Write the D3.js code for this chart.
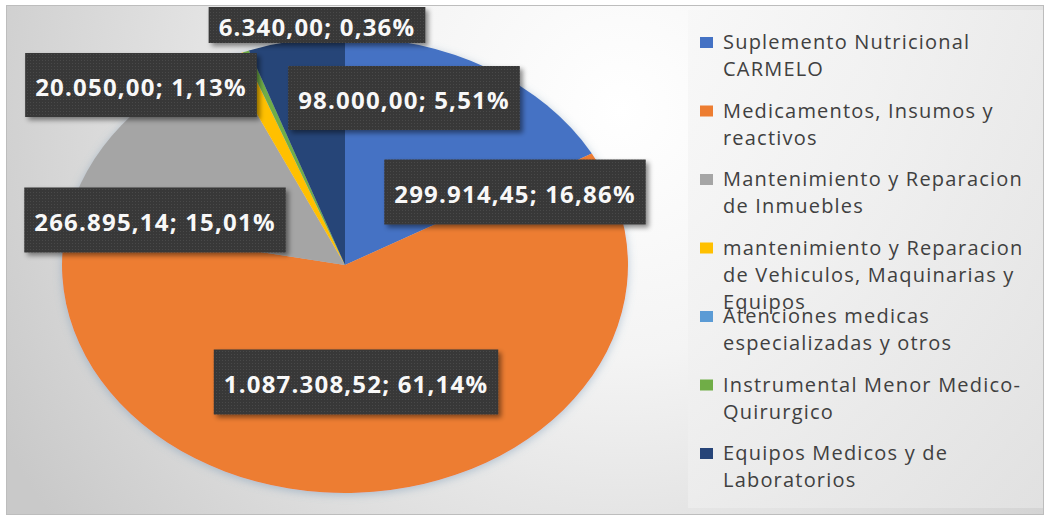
<!DOCTYPE html>
<html>
<head>
<meta charset="utf-8">
<script src="https://cdn.jsdelivr.net/npm/d3@7"></script>
<style>
  body { margin: 0; background: #ffffff; }
  svg { display: block; }
</style>
</head>
<body>
<div id="chart"></div>
<script>
// data
const categories = [
  'Suplemento Nutricional CARMELO',
  'Medicamentos, Insumos y reactivos',
  'Mantenimiento y Reparacion de Inmuebles',
  'mantenimiento y Reparacion de Vehiculos, Maquinarias y Equipos',
  'Atenciones medicas especializadas y otros',
  'Instrumental Menor Medico-Quirurgico',
  'Equipos Medicos y de Laboratorios'
];
const values = [299914.45, 1087308.52, 266895.14, 20050.00, 0, 6340.00, 98000.00];
const colors = ['#4472C4', '#ED7D31', '#A5A5A5', '#FFC000', '#5B9BD5', '#70AD47', '#264478'];

// legend lines (as wrapped in the original)
const legendLines = [
  ['Suplemento Nutricional', 'CARMELO'],
  ['Medicamentos, Insumos y', 'reactivos'],
  ['Mantenimiento y Reparacion', 'de Inmuebles'],
  ['mantenimiento y Reparacion', 'de Vehiculos, Maquinarias y', 'Equipos'],
  ['Atenciones medicas', 'especializadas y otros'],
  ['Instrumental Menor Medico-', 'Quirurgico'],
  ['Equipos Medicos y de', 'Laboratorios']
];

// hand placed data label boxes (center x, center y, box height)
const labelBoxes = [
  { cx: 515, cy: 192, h: 65 },
  { cx: 356, cy: 382, h: 65 },
  { cx: 155, cy: 220, h: 65 },
  { cx: 141, cy: 85, h: 64 },
  null,
  { cx: 317, cy: 25, h: 36 },
  { cx: 404, cy: 98, h: 64 }
];

const width = 1049;
const height = 521;

const svg = d3.select('#chart')
  .append('svg')
  .attr('width', width)
  .attr('height', height);

const defs = svg.append('defs');

const bg = defs.append('radialGradient')
  .attr('id', 'bgGrad')
  .attr('gradientUnits', 'userSpaceOnUse')
  .attr('cx', 620).attr('cy', 110).attr('r', 700);
bg.append('stop').attr('offset', '0%').attr('stop-color', '#ffffff');
bg.append('stop').attr('offset', '35%').attr('stop-color', '#f4f4f4');
bg.append('stop').attr('offset', '100%').attr('stop-color', '#c9c9c9');

const lg = defs.append('linearGradient')
  .attr('id', 'legGrad')
  .attr('x1', 0).attr('y1', 0).attr('x2', 1).attr('y2', 1);
lg.append('stop').attr('offset', '0%').attr('stop-color', '#f7f7f7');
lg.append('stop').attr('offset', '100%').attr('stop-color', '#e4e4e4');

const pat = defs.append('pattern')
  .attr('id', 'boxPat')
  .attr('width', 3).attr('height', 3)
  .attr('patternUnits', 'userSpaceOnUse');
pat.append('rect').attr('width', 3).attr('height', 3).attr('fill', '#383838');
pat.append('rect').attr('width', 1).attr('height', 1).attr('fill', '#4a4a4a');

const shadow = defs.append('filter')
  .attr('id', 'shadow')
  .attr('x', '-10%').attr('y', '-20%').attr('width', '130%').attr('height', '160%');
shadow.append('feDropShadow')
  .attr('dx', 3).attr('dy', 3).attr('stdDeviation', 2.5)
  .attr('flood-color', '#000').attr('flood-opacity', 0.45);

const pieShadow = defs.append('filter')
  .attr('id', 'pieShadow')
  .attr('x', '-10%').attr('y', '-10%').attr('width', '120%').attr('height', '120%');
pieShadow.append('feDropShadow')
  .attr('dx', 0).attr('dy', 2).attr('stdDeviation', 4)
  .attr('flood-color', '#6a8fb0').attr('flood-opacity', 0.45);

defs.append('clipPath').attr('id', 'frameClip')
  .append('rect').attr('x', 7).attr('y', 7).attr('width', 1036).attr('height', 506);

// chart frame
svg.append('rect')
  .attr('x', 6.5).attr('y', 5.5)
  .attr('width', 1037).attr('height', 509)
  .attr('fill', 'url(#bgGrad)')
  .attr('stroke', '#bdbdbd');

// legend panel
svg.append('rect')
  .attr('x', 688).attr('y', 10)
  .attr('width', 355).attr('height', 498)
  .attr('fill', 'url(#legGrad)')
  .attr('opacity', 0.8);

// pie (drawn as a circle, stretched into an ellipse)
const cx = 345, cy = 265, rx = 283, ry = 228;

const pie = d3.pie()
  .value(d => d)
  .sort(null)
  .startAngle(0)
  .endAngle(2 * Math.PI);

const arc = d3.arc()
  .innerRadius(0)
  .outerRadius(ry);

const arcs = pie(values);

const pieG = svg.append('g')
  .attr('transform', `translate(${cx},${cy}) scale(${rx / ry},1)`)
  .attr('filter', 'url(#pieShadow)');

pieG.selectAll('path')
  .data(arcs)
  .enter()
  .append('path')
  .attr('d', arc)
  .attr('fill', (d, i) => colors[i]);

// data labels
const total = d3.sum(values);
const locale = d3.formatLocale({ decimal: ',', thousands: '.', grouping: [3], currency: ['', ''] });
const fmtVal = locale.format(',.2f');
const fmtPct = locale.format('.2f');

const labelG = svg.append('g').attr('clip-path', 'url(#frameClip)');

values.forEach((v, i) => {
  const box = labelBoxes[i];
  if (!box || v === 0) return;
  const g = labelG.append('g');
  const txt = fmtVal(v) + '; ' + fmtPct(v / total * 100) + '%';
  const rect = g.append('rect')
    .attr('fill', 'url(#boxPat)')
    .attr('filter', 'url(#shadow)');
  const t = g.append('text')
    .attr('x', box.cx)
    .attr('y', box.cy + 2)
    .attr('dy', '0.36em')
    .attr('text-anchor', 'middle')
    .attr('fill', '#f8f8f8')
    .style('font-family', '"Open Sans", sans-serif')
    .style('font-weight', 'bold')
    .style('font-size', '24px')
    .style('letter-spacing', '1.2px')
    .text(txt);
  const w = t.node().getComputedTextLength() + 20;
  rect.attr('x', box.cx - w / 2)
    .attr('y', box.cy - box.h / 2)
    .attr('width', w)
    .attr('height', box.h);
});

// legend
const legendX = 700;
const legendTop = 42;
const legendStep = 68.5;
const lineH = 27;

const legend = svg.append('g').attr('class', 'legend');

legendLines.forEach((lines, i) => {
  const y0 = legendTop + i * legendStep;
  legend.append('rect')
    .attr('x', legendX)
    .attr('y', y0 - 5)
    .attr('width', 13)
    .attr('height', 11)
    .attr('fill', colors[i]);
  lines.forEach((line, j) => {
    legend.append('text')
      .attr('x', legendX + 23)
      .attr('y', y0 + j * lineH)
      .attr('dy', '0.36em')
      .attr('fill', '#404040')
      .style('font-family', '"Open Sans", sans-serif')
      .style('font-size', '20px')
      .style('letter-spacing', '1.2px')
      .text(line);
  });
});
</script>
</body>
</html>
